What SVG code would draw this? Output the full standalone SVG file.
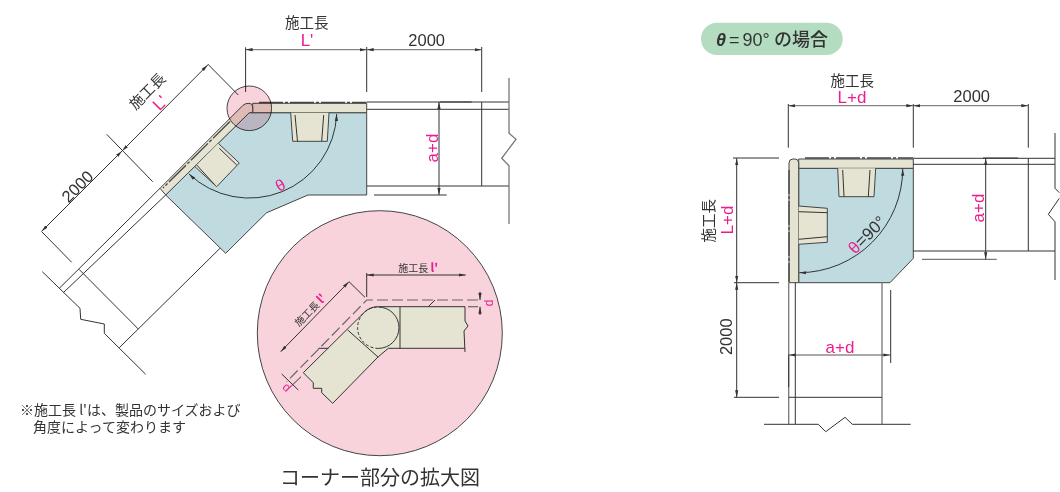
<svg xmlns="http://www.w3.org/2000/svg" width="1060" height="492" viewBox="0 0 1060 492">
<defs>
<marker id="a" viewBox="0 0 7 4" refX="7" refY="2" markerWidth="7" markerHeight="4" markerUnits="userSpaceOnUse" orient="auto-start-reverse"><path d="M0 0.4L7 2L0 3.6Z" fill="#333"/></marker>
</defs>
<style>
text{font-family:"Liberation Sans","Noto Sans CJK JP",sans-serif;fill:#333}
.j{font-family:"Noto Sans CJK JP",sans-serif}
.p{fill:#ec1e8f}
.m{text-anchor:middle}
.l{fill:none;stroke:#333;stroke-width:1}
.g{fill:none;stroke:#777;stroke-width:1.3}
.d{fill:none;stroke:#333;stroke-width:1;marker-start:url(#a);marker-end:url(#a)}
.band{fill:#e5e4d2;stroke:#444;stroke-width:1}
.blue{fill:#c0dbdf;stroke:#444;stroke-width:1}
.dash{fill:none;stroke:#444;stroke-width:1.3;stroke-dasharray:24 2 3 2}
.ld{fill:none;stroke:#666;stroke-width:1.2;stroke-dasharray:11 4}
</style>

<g id="corner-plan">
<path class="blue" d="M249.3 112.7H366.7V195H308L266.5 212.8L225.7 253.3L165.7 195Z"/>
<path class="band" d="M366.7 103.3H252.7V112.7H366.7Z"/>
<path class="band" d="M160 188.3L243 105.3Q245 103.3 249 103.3Q252.7 103.3 252.7 107V112.7H249.3L165.7 195Z"/>
<path class="band" d="M290.7 112.7L292.7 141.3H327.3L329 112.7"/>
<path class="l" d="M295 115L297.5 141.3M323.7 115L321.7 141.3"/>
<path class="band" d="M218.3 143.3L239.3 163L216.7 186.7L195 166.7"/>
<path class="l" d="M219.3 148.3L236.7 165M196.7 165L214.5 184.5"/>
<path class="dash" d="M259 102.5H366.7"/>
<path class="dash" d="M230 121.5L163 188"/>
<path class="d" d="M336.7 114A87.5 87.5 0 0 1 189 174"/>
<text class="p m" font-size="16" transform="translate(283 190) rotate(-30)">θ</text>
</g>

<g id="corner-lines">
<path class="l" d="M245.6 47.3V92M366.7 47V92M481.7 47V92"/>
<path class="d" style="stroke:#666" d="M245.6 49.7H366.7"/>
<path class="d" style="stroke:#666" d="M366.7 49.7H481.7"/>
<path class="l" d="M367 102H509M367 109.3H509M367 186H509M481.7 102V186M440 102H471.7M374 195H446.7"/>
<path class="g" d="M509 78V133.3L516 139.3L501.7 158.3L509 165.7V224"/>
<path class="d" d="M439 102V195"/>
<path class="l" d="M207.7 64L238.3 95M106.7 134.3L152.7 181.7M41.7 231.7L71.7 262.3"/>
<path class="d" d="M207.7 65L122 151"/>
<path class="d" d="M122 151L41.5 231.5"/>
<path class="l" d="M160 188.3L59.3 288.3M165.7 195L63.3 292.7M42.3 271.7L80 308.3L80.7 319.3L104.3 324V333.3L145.7 374.3M79 269.3L138.3 329M119.3 347.7L220 248.3"/>
</g>

<g id="corner-labels">
<text class="j m" font-size="14.5" x="306.7" y="28">施工長</text>
<text class="p m" font-size="17" x="307" y="45.5">L'</text>
<text class="m" font-size="16.5" x="426.7" y="45.7">2000</text>
<text class="j m" font-size="14.5" transform="translate(151 95) rotate(-45)">施工長</text>
<text class="p m" font-size="17" transform="translate(164 107) rotate(-45)">L'</text>
<text class="m" font-size="16.5" transform="translate(81.5 190.5) rotate(-45)">2000</text>
<text class="p m" font-size="17" transform="translate(437.5 148) rotate(-90)">a+d</text>
</g>

<g id="small-circle"><circle cx="249.3" cy="108.3" r="22.3" fill="#f8d3dc" stroke="#444" style="mix-blend-mode:multiply"/></g>

<g id="detail">
<circle cx="379.8" cy="333.2" r="122.5" fill="#f8d3dc" stroke="#444"/>
<path style="fill:#e5e4d2" d="M465 306.7H378.3Q369 306.7 363.3 313.3L303.3 372.7L313.3 382.7V388.3H321.7V392.7L332.7 403.3L378.3 356.7L388.3 348.3H465V331L464 331L468 326L465 321Z"/>
<path class="l" d="M465 306.7H378.3Q369 306.7 363.3 313.3L303.3 372.7L313.3 382.7V388.3H321.7V392.7L332.7 403.3L378.3 356.7L388.3 348.3H465M465 306.7V321L468 326L464 331L465 352M400 306.7V348.3M347.7 330L378.3 357.3M428.3 306.7L435 300M318.3 348.3H328.3"/>
<path d="M378.3 307A20.7 20.7 0 0 1 378.3 348.4" class="l"/>
<path d="M378.3 348.4A20.7 20.7 0 0 1 378.3 307" class="l" stroke-dasharray="3 2"/>
<path class="ld" d="M478 300H366.7L286.7 381.7"/>
<path class="ld" d="M468 306.7H478"/>
<path class="l" d="M366.7 273V297M349 281.7L365 297.3M281.7 374L298.3 390M301 376.7L291.7 385.7"/>
<path class="d" d="M366.7 275H465.7"/>
<path class="d" d="M349 281.7L280.7 351.7"/>
<path class="l" marker-end="url(#a)" d="M480 291.7V300"/>
<path class="l" marker-end="url(#a)" d="M480 315V306.7"/>
<text class="j" font-size="10" x="398.3" y="271.5">施工長 <tspan class="p" font-size="12" font-weight="bold">l'</tspan></text>
<text class="j m" font-size="10" transform="translate(313 313) rotate(-45)">施工長 <tspan class="p" font-size="12" font-weight="bold">l'</tspan></text>
<text class="p m" font-size="12" transform="translate(492.5 303) rotate(-90)">d</text>
<text class="p m" font-size="12" transform="translate(284 390) rotate(45)">d</text>
</g>

<g id="captions">
<text class="j m" font-size="20" x="380" y="485">コーナー部分の拡大図</text>
<text class="j" font-size="14" y="414.5"><tspan x="20">※施工長 l'は、製品のサイズおよび</tspan><tspan x="33" dy="17.2">角度によって変わります</tspan></text>
</g>

<g id="badge">
<rect x="701" y="22.7" width="141.7" height="32.3" rx="16.1" fill="#b3dcc1"/>
<text font-size="18" y="45.5" font-weight="500"><tspan x="716" font-style="italic" font-weight="bold">θ</tspan><tspan x="729" font-weight="normal" textLength="13">=</tspan><tspan x="742.5">90°</tspan><tspan x="774" class="j">の場合</tspan></text>
</g>

<g id="right-plan">
<path class="blue" d="M798.7 168.3H913.3V258.3L890 282.7H798.7Z"/>
<path class="band" d="M913.3 159H798.7V168.3H913.3Z"/>
<path class="band" d="M789 282.7V163Q789 159 793 159H795Q798.7 159 798.7 163V282.7Z"/>
<path class="band" d="M837.7 168.3L839 196.7H874L875.7 168.3"/>
<path class="l" d="M842.7 170L844 196.7M870 170L868.3 196.7"/>
<path class="band" d="M798.7 206L827.3 208.3V242.3L798.7 244.3"/>
<path class="l" d="M798.7 211.7L827.3 212.7M798.7 239.3L827.3 236.7"/>
<path class="dash" d="M805 158H913.3"/>
<path class="dash" d="M789 170V282"/>
<path class="d" d="M902.7 168.7A104 104 0 0 1 799.3 272.7"/>
<text class="m" font-size="17" transform="translate(871 239) rotate(-45)"><tspan class="p">θ</tspan>=90°</text>
</g>

<g id="right-lines">
<path class="l" d="M788.3 104V147.7M913.3 104V147.7M1028.3 104V147.7"/>
<path class="d" style="stroke:#666" d="M788.3 105.7H913.3"/>
<path class="d" style="stroke:#666" d="M913.3 105.7H1028.3"/>
<path class="l" d="M913.3 158.3H1055M913.3 164.3H1055M913.3 251H1055M1028.3 158.3V251M983 158H1018"/>
<path class="g" d="M922 259.3H996.7"/>
<path class="d" d="M985.7 158.3V259.3"/>
<path class="l" d="M1055 133V188.3L1059.3 192.7M1059.3 198.3L1048.3 214.3L1055 221.7V280"/>
<path class="l" d="M733 158H779M734 282.7H779M734 397.3H779"/>
<path class="d" d="M736.7 158.3V282.7"/>
<path class="d" d="M736.7 282.7V397.3"/>
<path class="g" d="M788.7 282.7V424.3M882 282.7V424.3"/>
<path class="l" d="M795.3 282.7V424.3M788.7 397.3H882M764 424.3H818.3L825.7 431.7L845 417.3L852.3 424.3H910.7M890.7 290V363M788.7 355V387"/>
<path class="d" style="stroke:#555" d="M788.7 355H890.3"/>
</g>

<g id="right-labels">
<text class="j m" font-size="14.5" x="852.3" y="86">施工長</text>
<text class="p m" font-size="17" x="852" y="102.7">L+d</text>
<text class="m" font-size="16.5" x="971.7" y="102">2000</text>
<text class="j m" font-size="14.5" transform="translate(714 220.7) rotate(-90)">施工長</text>
<text class="p m" font-size="17" transform="translate(733 220) rotate(-90)">L+d</text>
<text class="m" font-size="16.5" transform="translate(731.5 336.7) rotate(-90)">2000</text>
<text class="p m" font-size="17" transform="translate(984 208) rotate(-90)">a+d</text>
<text class="p m" font-size="17" x="840" y="352.7">a+d</text>
</g>
</svg>
